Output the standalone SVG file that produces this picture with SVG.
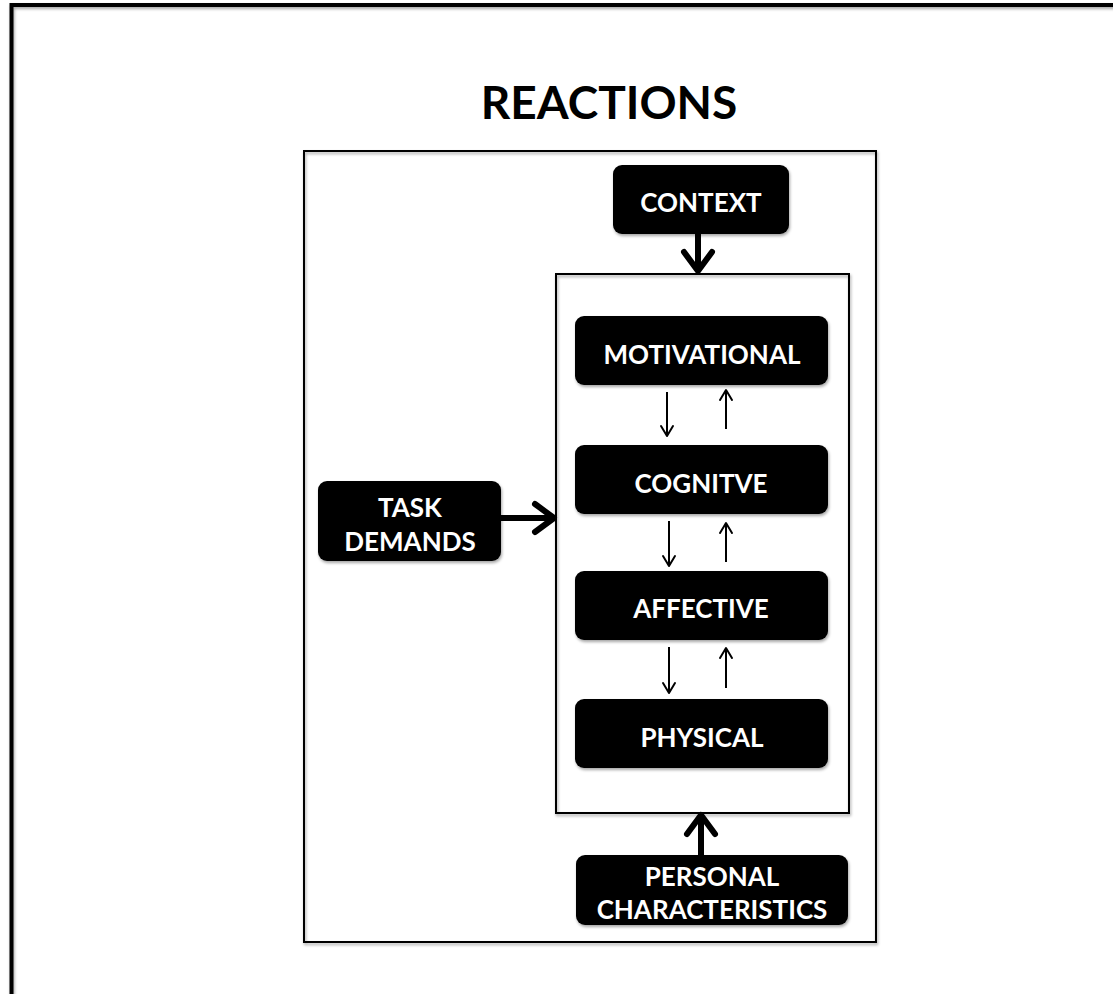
<svg xmlns="http://www.w3.org/2000/svg" width="1113" height="994" viewBox="0 0 1113 994">
<defs>
<filter id="sh" x="-10%" y="-10%" width="130%" height="140%">
<feDropShadow dx="1" dy="2" stdDeviation="1.5" flood-color="#000" flood-opacity="0.35"/>
</filter>
<marker id="big" viewBox="0 0 30 36" refX="25" refY="18" markerWidth="30" markerHeight="36" markerUnits="userSpaceOnUse" orient="auto">
<path d="M6,4 L25,18 L6,32" fill="none" stroke="#000" stroke-width="6" stroke-linecap="round" stroke-linejoin="round"/>
</marker>
<marker id="sm" viewBox="0 0 16 16" refX="13" refY="8" markerWidth="16" markerHeight="16" markerUnits="userSpaceOnUse" orient="auto">
<path d="M3,2 L13,8 L3,14" fill="none" stroke="#000" stroke-width="2" stroke-linecap="round" stroke-linejoin="round"/>
</marker>
</defs>
<style>
.frame{fill:none;stroke:#000}
.node{fill:#000;filter:url(#sh)}
.lbl{fill:#fff;font-family:Lato,"Open Sans",sans-serif;font-weight:bold;font-size:26px;text-anchor:middle;dominant-baseline:central}
.thick{stroke:#000;stroke-width:6;fill:none;marker-end:url(#big)}
.thin{stroke:#000;stroke-width:2;fill:none;marker-end:url(#sm)}
</style>
<rect width="1113" height="994" fill="#fff"/>
<rect x="11.5" y="5" width="1130" height="1020" class="frame" stroke-width="4" filter="url(#sh)"/>
<text x="609" y="101" font-family="Lato,'Open Sans',sans-serif" font-weight="bold" font-size="46" text-anchor="middle" dominant-baseline="central">REACTIONS</text>
<rect id="outer-box" x="304" y="151" width="572" height="791" class="frame" stroke-width="2" filter="url(#sh)"/>
<rect id="inner-box" x="556" y="274" width="293" height="539" class="frame" stroke-width="2" filter="url(#sh)"/>
<g id="connectors">
<line x1="698" y1="234" x2="698" y2="271" class="thick"/>
<line x1="501" y1="518" x2="554" y2="518" class="thick"/>
<line x1="701" y1="855" x2="701" y2="815" class="thick"/>
<line x1="667" y1="392" x2="667" y2="436" class="thin"/>
<line x1="726" y1="429" x2="726" y2="390" class="thin"/>
<line x1="669" y1="521" x2="669" y2="566" class="thin"/>
<line x1="726" y1="562" x2="726" y2="523" class="thin"/>
<line x1="669" y1="647" x2="669" y2="693" class="thin"/>
<line x1="726" y1="688" x2="726" y2="648" class="thin"/>
</g>
<g id="context"><rect x="613" y="165" width="176" height="69" rx="9" class="node"/><text x="701" y="202" class="lbl">CONTEXT</text></g>
<g id="task-demands"><rect x="318" y="481" width="183" height="80" rx="9" class="node"/><text x="410" y="507" class="lbl">TASK</text><text x="410" y="541" class="lbl">DEMANDS</text></g>
<g id="motivational"><rect x="575" y="316" width="253" height="69" rx="9" class="node"/><text x="702" y="354" class="lbl">MOTIVATIONAL</text></g>
<g id="cognitive"><rect x="575" y="445" width="253" height="69" rx="9" class="node"/><text x="701" y="483" class="lbl">COGNITVE</text></g>
<g id="affective"><rect x="575" y="571" width="253" height="69" rx="9" class="node"/><text x="701" y="608" class="lbl">AFFECTIVE</text></g>
<g id="physical"><rect x="575" y="699" width="253" height="69" rx="9" class="node"/><text x="702" y="737" class="lbl">PHYSICAL</text></g>
<g id="personal"><rect x="576" y="855" width="272" height="70" rx="9" class="node"/><text x="712" y="876" class="lbl">PERSONAL</text><text x="712" y="909" class="lbl">CHARACTERISTICS</text></g>
</svg>
